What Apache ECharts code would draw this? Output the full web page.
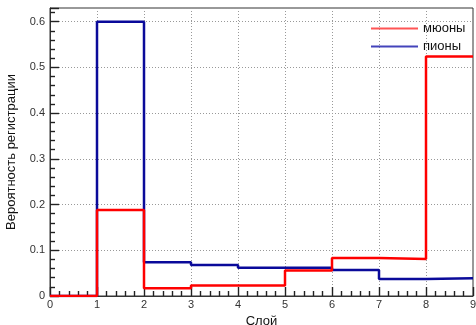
<!DOCTYPE html>
<html>
<head>
<meta charset="utf-8">
<script src="https://cdn.jsdelivr.net/npm/echarts@6/dist/echarts.min.js"></script>
<style>
  html, body { margin: 0; padding: 0; background: #fff; }
  #chart { width: 476px; height: 325px; }
</style>
</head>
<body>
<div id="chart"></div>
<script>
// края бинов (слои) и вероятности регистрации
const binEdges = [0, 1, 2, 3, 4, 5, 6, 7, 8, 9]
const muons = [0, 0.188, 0.017, 0.023, 0.023, 0.056, 0.083, 0.081, 0.524]
const pions = [0, 0.6, 0.074, 0.068, 0.062, 0.062, 0.057, 0.037, 0.039]
const yTicks = [0, 0.1, 0.2, 0.3, 0.4, 0.5, 0.6]

// гистограмма -> точки ступенчатой линии
function toSteps(values) {
    let pts = values.map((v, i) => [binEdges[i], v])
    pts.push([binEdges[binEdges.length - 1], values[values.length - 1]])
    return pts
}

let myChart = echarts.init(document.querySelector('#chart'))

const font = 'Liberation Sans, Arial, sans-serif'

// по одной легенде на строку, чтобы линии и подписи стояли ровно
function legendFor(name, color, top) {
    return {
        orient: 'horizontal',
        left: 371,
        top: top,
        padding: 0,
        itemWidth: 47,
        itemHeight: 2,
        icon: 'rect',
        textStyle: { fontFamily: font, fontSize: 13, color: '#111' },
        data: [{ name: name, itemStyle: { color: color } }]
    }
}

const tickStyle = { color: '#222', width: 1.4 }

const option = {
    animation: false,
    grid: {
        left: 50,
        right: 3,
        top: 8,
        bottom: 29,
        containLabel: false,
        outerBoundsMode: 'none',
        show: true,
        borderColor: '#333',
        borderWidth: 1
    },
    legend: [
        legendFor('мюоны', '#ff5555', 22),
        legendFor('пионы', '#4444bb', 40)
    ],
    xAxis: {
        type: 'value',
        min: 0,
        max: 9,
        interval: 1,
        name: 'Слой',
        nameLocation: 'middle',
        nameGap: 16,
        nameTextStyle: { fontFamily: font, fontSize: 13, color: '#111' },
        axisLine: { show: true, onZero: false, lineStyle: { color: '#333' } },
        axisTick: { show: true, inside: true, length: 9, lineStyle: tickStyle },
        minorTick: { show: true, splitNumber: 5, length: 5, lineStyle: tickStyle },
        axisLabel: { fontFamily: font, fontSize: 11, color: '#333', margin: 3 },
        splitLine: { show: true, lineStyle: { color: '#999', type: [1, 2] } }
    },
    yAxis: {
        type: 'value',
        min: 0,
        max: 0.63,
        interval: 0.1,
        name: 'Вероятность регистрации',
        nameLocation: 'middle',
        nameGap: 32,
        nameTextStyle: { fontFamily: font, fontSize: 13, color: '#111' },
        axisLine: { show: true, lineStyle: { color: '#333' } },
        axisTick: { show: true, inside: true, length: 9, lineStyle: tickStyle },
        minorTick: { show: true, splitNumber: 5, length: 5, lineStyle: tickStyle },
        axisLabel: {
            fontFamily: font, fontSize: 11, color: '#333', margin: 5,
            formatter: function (v) {
                let t = yTicks.find(x => Math.abs(x - v) < 1e-6)
                return t === undefined ? '' : String(t)
            }
        },
        splitLine: { show: true, lineStyle: { color: '#999', type: [1, 2] } }
    },
    series: [
        {
            name: 'пионы',
            type: 'line',
            step: 'end',
            symbol: 'none',
            data: toSteps(pions),
            lineStyle: { color: '#0a0a9a', width: 2.5 },
            itemStyle: { color: '#4444bb' },
            z: 2
        },
        {
            name: 'мюоны',
            type: 'line',
            step: 'end',
            symbol: 'none',
            data: toSteps(muons),
            lineStyle: { color: '#ff0000', width: 2.5 },
            itemStyle: { color: '#ff5555' },
            z: 3
        }
    ]
}

myChart.setOption(option)
</script>
</body>
</html>
